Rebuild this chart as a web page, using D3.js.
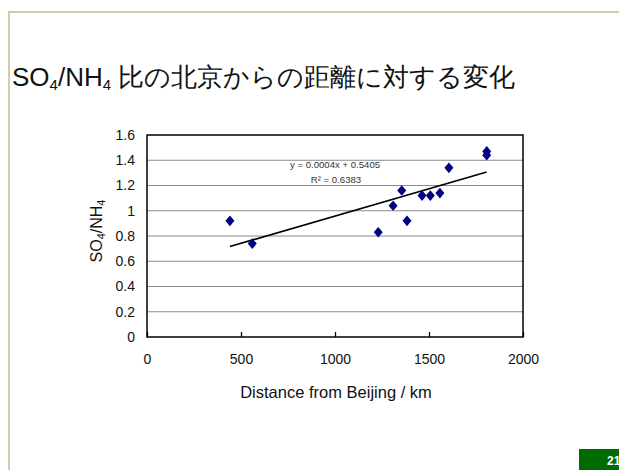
<!DOCTYPE html>
<html>
<head>
<meta charset="utf-8">
<script src="https://cdn.jsdelivr.net/npm/d3@7"></script>
<style>
body { margin:0; background:#fff; }
svg text { font-family: "Liberation Sans", Arial, sans-serif; }
</style>
</head>
<body>
<svg id="chart" width="619" height="470"></svg>
<script>
////////////////////////////////////////////////////
// data
var distance = [441, 560, 1230, 1309, 1355, 1383, 1463, 1507, 1558, 1606, 1807, 1807];
var ratio    = [0.92, 0.74, 0.83, 1.04, 1.16, 0.92, 1.12, 1.12, 1.14, 1.34, 1.47, 1.44];
var xTicks = [0, 500, 1000, 1500, 2000];
var yTicks = [0, 0.2, 0.4, 0.6, 0.8, 1, 1.2, 1.4, 1.6];
var eqText = "y = 0.0004x + 0.5405";
var r2Text = "R\u00B2 = 0.6383";

////////////////////////////////////////////////////
function drawChart() {
	var svg = d3.select("#chart");
	var pLeft = 147, pRight = 523, pTop = 135, pBottom = 337;

	var x = d3.scaleLinear().domain([0, 2000]).range([pLeft, pRight]);
	var y = d3.scaleLinear().domain([0, 1.6]).range([pBottom, pTop]);

	/////////// slide frame
	svg.append("path")
		.attr("d", "M9,470 V12 H619")
		.attr("fill", "none")
		.attr("stroke", "#d2ccaa")
		.attr("stroke-width", 2);

	/////////// title
	var title = svg.append("text")
		.attr("x", 12)
		.attr("y", 86)
		.attr("font-family", "'Noto Sans CJK JP', sans-serif")
		.attr("font-size", 26)
		.attr("fill", "#111");
	title.append("tspan").text("SO");
	title.append("tspan").attr("font-size", 15).attr("dy", 4).text("4");
	title.append("tspan").attr("dy", -4).text("/NH");
	title.append("tspan").attr("font-size", 15).attr("dy", 4).text("4");
	title.append("tspan").attr("dy", -4).text(" 比の北京からの距離に対する変化");

	/////////// grid
	svg.append("g")
		.selectAll("line")
		.data(yTicks.slice(1, -1))
		.enter().append("line")
			.attr("x1", pLeft).attr("x2", pRight)
			.attr("y1", function(d){ return y(d); })
			.attr("y2", function(d){ return y(d); })
			.attr("stroke", "#8a8a8a")
			.attr("stroke-width", 1);

	/////////// axes
	var xAxis = svg.append("g")
		.attr("transform", "translate(0," + pBottom + ")")
		.call(d3.axisBottom(x).tickValues(xTicks).tickSize(-5).tickPadding(17).tickFormat(d3.format("d")));
	xAxis.select(".domain").remove();
	xAxis.selectAll("line").attr("stroke", "#000").attr("stroke-width", 1.3);
	xAxis.selectAll("text").attr("font-size", 14).attr("fill", "#111");

	var yAxis = svg.append("g")
		.attr("transform", "translate(" + pLeft + ",0)")
		.call(d3.axisLeft(y).tickValues(yTicks).tickSize(0).tickPadding(12).tickFormat(function(d){ return String(d); }));
	yAxis.select(".domain").remove();
	yAxis.selectAll("text").attr("font-size", 14).attr("fill", "#111");

	svg.append("rect")
		.attr("x", pLeft).attr("y", pTop)
		.attr("width", pRight - pLeft).attr("height", pBottom - pTop)
		.attr("fill", "none")
		.attr("stroke", "#000")
		.attr("stroke-width", 1.5);

	/////////// axis titles
	svg.append("text")
		.attr("x", 336)
		.attr("y", 398)
		.attr("text-anchor", "middle")
		.attr("font-size", 16.5)
		.attr("fill", "#111")
		.text("Distance from Beijing / km");

	var yt = svg.append("text")
		.attr("transform", "translate(102,231) rotate(-90)")
		.attr("text-anchor", "middle")
		.attr("font-size", 16)
		.attr("fill", "#111");
	yt.append("tspan").text("SO");
	yt.append("tspan").attr("font-size", 11).attr("dy", 3).text("4");
	yt.append("tspan").attr("dy", -3).text("/NH");
	yt.append("tspan").attr("font-size", 11).attr("dy", 3).text("4");

	/////////// linear trend (least squares on the points)
	var mx = d3.mean(distance), my = d3.mean(ratio);
	var sxy = d3.sum(distance, function(d,i){ return (d - mx) * (ratio[i] - my); });
	var sxx = d3.sum(distance, function(d){ return (d - mx) * (d - mx); });
	var slope = sxy / sxx, icpt = my - slope * mx;
	var x0 = d3.min(distance), x1 = d3.max(distance);
	svg.append("line")
		.attr("x1", x(x0)).attr("y1", y(icpt + slope * x0))
		.attr("x2", x(x1)).attr("y2", y(icpt + slope * x1))
		.attr("stroke", "#000")
		.attr("stroke-width", 1.7);

	svg.append("text")
		.attr("x", 335).attr("y", 168)
		.attr("text-anchor", "middle")
		.attr("font-size", 9.6)
		.attr("fill", "#333")
		.text(eqText);
	svg.append("text")
		.attr("x", 336).attr("y", 183)
		.attr("text-anchor", "middle")
		.attr("font-size", 9.6)
		.attr("fill", "#333")
		.text(r2Text);

	/////////// points
	svg.append("g")
		.selectAll("path")
		.data(distance)
		.enter().append("path")
			.attr("transform", function(d,i){ return "translate(" + x(d) + "," + y(ratio[i]) + ")"; })
			.attr("d", "M0,-5.3L4.5,0L0,5.3L-4.5,0Z")
			.attr("fill", "#000080");

	/////////// page number
	svg.append("rect")
		.attr("x", 579).attr("y", 449)
		.attr("width", 40).attr("height", 21)
		.attr("fill", "#006b00");
	svg.append("text")
		.attr("x", 607).attr("y", 465)
		.attr("font-size", 12)
		.attr("font-weight", "bold")
		.attr("fill", "#fff")
		.text("21");
}
drawChart();
////////////////////////////////////////////////////
</script>
</body>
</html>
